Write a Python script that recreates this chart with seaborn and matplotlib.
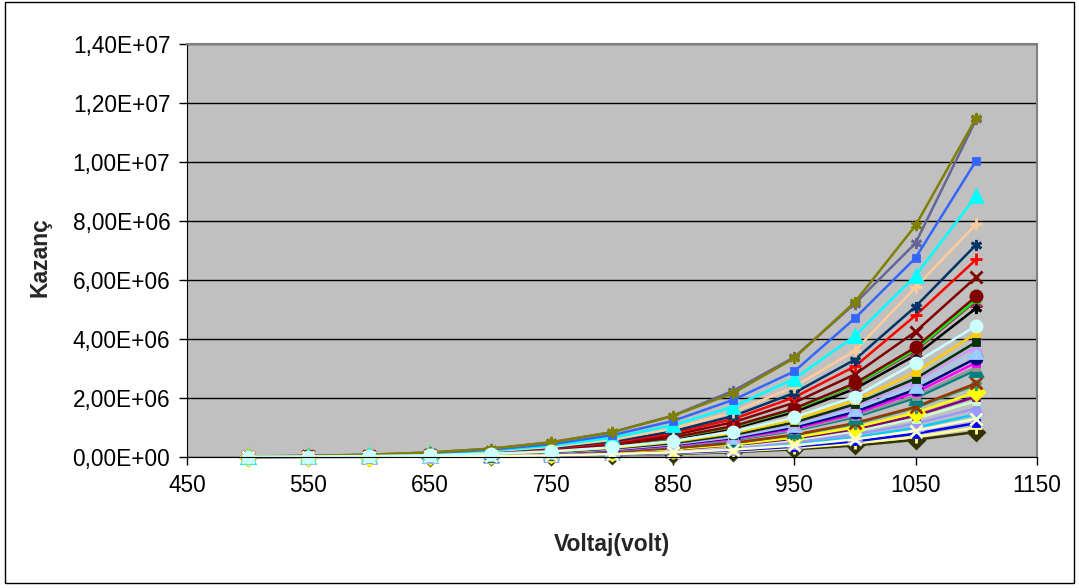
import matplotlib
matplotlib.use("Agg")
import matplotlib.pyplot as plt
import matplotlib.ticker as mticker
from matplotlib.patches import Rectangle
import seaborn as sns

# Gain (Kazanç) vs voltage, values in millions
voltaj = [500, 550, 600, 650, 700, 750, 800, 850, 900, 950, 1000, 1050, 1100]

g01 = [0.018, 0.039, 0.079, 0.154, 0.283, 0.50, 0.84, 1.39, 2.17, 3.35, 5.25, 7.85, 11.5]
g02 = [0.018, 0.039, 0.079, 0.153, 0.280, 0.50, 0.84, 1.40, 2.25, 3.38, 5.20, 7.25, 11.45]
g03 = [0.016, 0.034, 0.069, 0.135, 0.247, 0.435, 0.74, 1.22, 1.94, 2.90, 4.70, 6.75, 10.05]
g04 = [0.014, 0.030, 0.061, 0.119, 0.218, 0.383, 0.65, 1.07, 1.71, 2.65, 4.10, 6.15, 8.85]
g05 = [0.013, 0.027, 0.055, 0.106, 0.194, 0.342, 0.58, 0.96, 1.52, 2.38, 3.60, 5.75, 7.90]
g06 = [0.012, 0.024, 0.050, 0.096, 0.177, 0.310, 0.53, 0.87, 1.39, 2.17, 3.30, 5.10, 7.20]
g07 = [0.011, 0.023, 0.046, 0.090, 0.165, 0.290, 0.49, 0.81, 1.29, 2.02, 3.07, 4.80, 6.70]
g08 = [0.010, 0.021, 0.042, 0.082, 0.150, 0.264, 0.45, 0.74, 1.18, 1.84, 2.80, 4.25, 6.10]
g09 = [0.009, 0.019, 0.038, 0.073, 0.134, 0.236, 0.40, 0.66, 1.05, 1.64, 2.50, 3.72, 5.45]
g10 = [0.009, 0.018, 0.037, 0.072, 0.132, 0.232, 0.39, 0.65, 1.03, 1.61, 2.45, 3.65, 5.35]
g11 = [0.008, 0.018, 0.037, 0.071, 0.130, 0.229, 0.39, 0.64, 1.02, 1.60, 2.43, 3.60, 5.30]
g12 = [0.008, 0.017, 0.035, 0.068, 0.124, 0.219, 0.37, 0.61, 0.97, 1.52, 2.31, 3.45, 5.05]
g13 = [0.007, 0.015, 0.031, 0.060, 0.109, 0.193, 0.33, 0.54, 0.86, 1.34, 2.04, 3.20, 4.45]
g14 = [0.007, 0.014, 0.029, 0.056, 0.103, 0.182, 0.31, 0.51, 0.81, 1.26, 1.92, 2.87, 4.20]
g15 = [0.006, 0.013, 0.027, 0.052, 0.096, 0.169, 0.29, 0.47, 0.75, 1.17, 1.79, 2.66, 3.90]
g16 = [0.006, 0.013, 0.026, 0.050, 0.092, 0.162, 0.275, 0.45, 0.72, 1.13, 1.72, 2.56, 3.75]
g17 = [0.006, 0.012, 0.024, 0.048, 0.087, 0.154, 0.26, 0.43, 0.68, 1.07, 1.62, 2.42, 3.55]
g18 = [0.005, 0.011, 0.023, 0.045, 0.082, 0.145, 0.25, 0.41, 0.65, 1.01, 1.53, 2.29, 3.35]
g19 = [0.005, 0.011, 0.022, 0.043, 0.079, 0.139, 0.235, 0.39, 0.62, 0.96, 1.47, 2.19, 3.20]
g20 = [0.005, 0.010, 0.021, 0.041, 0.075, 0.132, 0.224, 0.37, 0.59, 0.92, 1.40, 2.08, 3.05]
g21 = [0.005, 0.010, 0.020, 0.040, 0.073, 0.128, 0.217, 0.36, 0.57, 0.89, 1.35, 2.00, 2.95]
g22 = [0.004, 0.0085, 0.017, 0.034, 0.062, 0.108, 0.184, 0.30, 0.48, 0.75, 1.15, 1.70, 2.50]
g23 = [0.004, 0.0083, 0.017, 0.033, 0.060, 0.106, 0.18, 0.30, 0.47, 0.74, 1.12, 1.67, 2.45]
g24 = [0.0035, 0.0075, 0.015, 0.029, 0.054, 0.095, 0.16, 0.27, 0.42, 0.66, 1.00, 1.50, 2.20]
g25 = [0.0033, 0.007, 0.014, 0.027, 0.050, 0.089, 0.15, 0.25, 0.40, 0.62, 0.94, 1.40, 2.05]
g26 = [0.003, 0.0065, 0.013, 0.025, 0.047, 0.082, 0.14, 0.23, 0.37, 0.57, 0.87, 1.30, 1.90]
g27 = [0.0026, 0.0056, 0.011, 0.022, 0.041, 0.071, 0.12, 0.20, 0.32, 0.50, 0.76, 1.13, 1.65]
g28 = [0.0023, 0.0049, 0.010, 0.019, 0.036, 0.063, 0.106, 0.175, 0.28, 0.44, 0.66, 0.99, 1.45]
g29 = [0.0021, 0.0044, 0.009, 0.017, 0.032, 0.056, 0.095, 0.157, 0.25, 0.39, 0.60, 0.89, 1.30]
g30 = [0.0018, 0.0039, 0.008, 0.015, 0.028, 0.050, 0.084, 0.139, 0.22, 0.35, 0.53, 0.79, 1.15]
g31 = [0.0016, 0.0034, 0.007, 0.013, 0.025, 0.043, 0.073, 0.121, 0.19, 0.30, 0.46, 0.68, 1.00]
g32 = [0.0014, 0.0029, 0.006, 0.011, 0.021, 0.037, 0.062, 0.103, 0.164, 0.26, 0.39, 0.58, 0.85]

series = [g01, g02, g03, g04, g05, g06, g07, g08, g09, g10, g11, g12, g13, g14, g15, g16,
          g17, g18, g19, g20, g21, g22, g23, g24, g25, g26, g27, g28, g29, g30, g31, g32]

star = (6, 2, 0)
colors = ["#808000", "#666699", "#3366FF", "#00FFFF", "#FFCC99", "#003366", "#FF0000", "#800000",
          "#800000", "#00FF00", "#993366", "#000000", "#CCFFFF", "#FFCC00", "#003300", "#CC99FF",
          "#99CCFF", "#000080", "#FF00FF", "#969696", "#008080", "#993300", "#339966", "#FFFF00",
          "#800080", "#CCFFCC", "#9999FF", "#00CCFF", "#FFFFCC", "#0000FF", "#FFFF99", "#333300"]
markers = [star, star, "s", "^", "+", star, "+", "x",
           "o", "s", "x", star, "o", "s", "s", "x",
           "^", "o", "s", "s", "^", "x", star, "D",
           "s", "s", "^", "s", "x", "s", "+", "D"]

# drawing order: lowest curves first, the light cyan circles and cream crosses end on top
order = list(range(31, -1, -1))
order.remove(12)
order.remove(28)
order += [28, 12]

sns.set_style("white")
plt.rcParams["font.family"] = ["Liberation Sans", "DejaVu Sans"]

fig = plt.figure(figsize=(10.79, 5.88), dpi=100)
ax = fig.add_axes([187 / 1079, 1 - 457 / 588, 850 / 1079, 413 / 588])
ax.set_facecolor("#C0C0C0")

for i in order:
    c, m = colors[i], markers[i]
    y = [v * 1e6 for v in series[i]]
    ms = 5 if m == "s" else 8
    sns.lineplot(x=voltaj, y=y, ax=ax, color=c, marker=m, markersize=ms,
                 markerfacecolor=c, markeredgecolor=c, markeredgewidth=2,
                 linewidth=1.8, clip_on=False)

ax.set_xlim(450, 1150)
ax.set_ylim(0, 1.4e7)
ax.set_xticks(range(450, 1151, 100))
ax.set_yticks([i * 2e6 for i in range(8)])
ax.yaxis.set_major_formatter(mticker.FuncFormatter(lambda v, p: f"{v:.2E}".replace(".", ",")))
ax.yaxis.grid(True, color="black", linewidth=1)
ax.xaxis.grid(False)
ax.set_axisbelow(True)
ax.tick_params(axis="both", direction="out", length=6, width=1, color="black",
               labelsize=16.3, labelcolor="black", pad=6, left=True, bottom=True)

for side in ["top", "right"]:
    ax.spines[side].set_color("#808080")
    ax.spines[side].set_linewidth(1.5)
ax.spines["left"].set_color("black")
ax.spines["bottom"].set_color("black")

ax.set_xlabel("")
ax.set_ylabel("")
fig.text(612 / 1079, 1 - 545 / 588, "Voltaj(volt)", fontsize=16.5, fontweight="bold",
         ha="center", va="center")
fig.text(40 / 1079, 1 - 257 / 588, "Kazanç", fontsize=16.5, fontweight="bold",
         rotation=90, ha="center", va="center")

fig.patches.append(Rectangle((5 / 1079, 5 / 588), 1069 / 1079, 581 / 588, fill=False,
                             edgecolor="black", linewidth=1, transform=fig.transFigure))

fig.savefig("out.png", dpi=100)
